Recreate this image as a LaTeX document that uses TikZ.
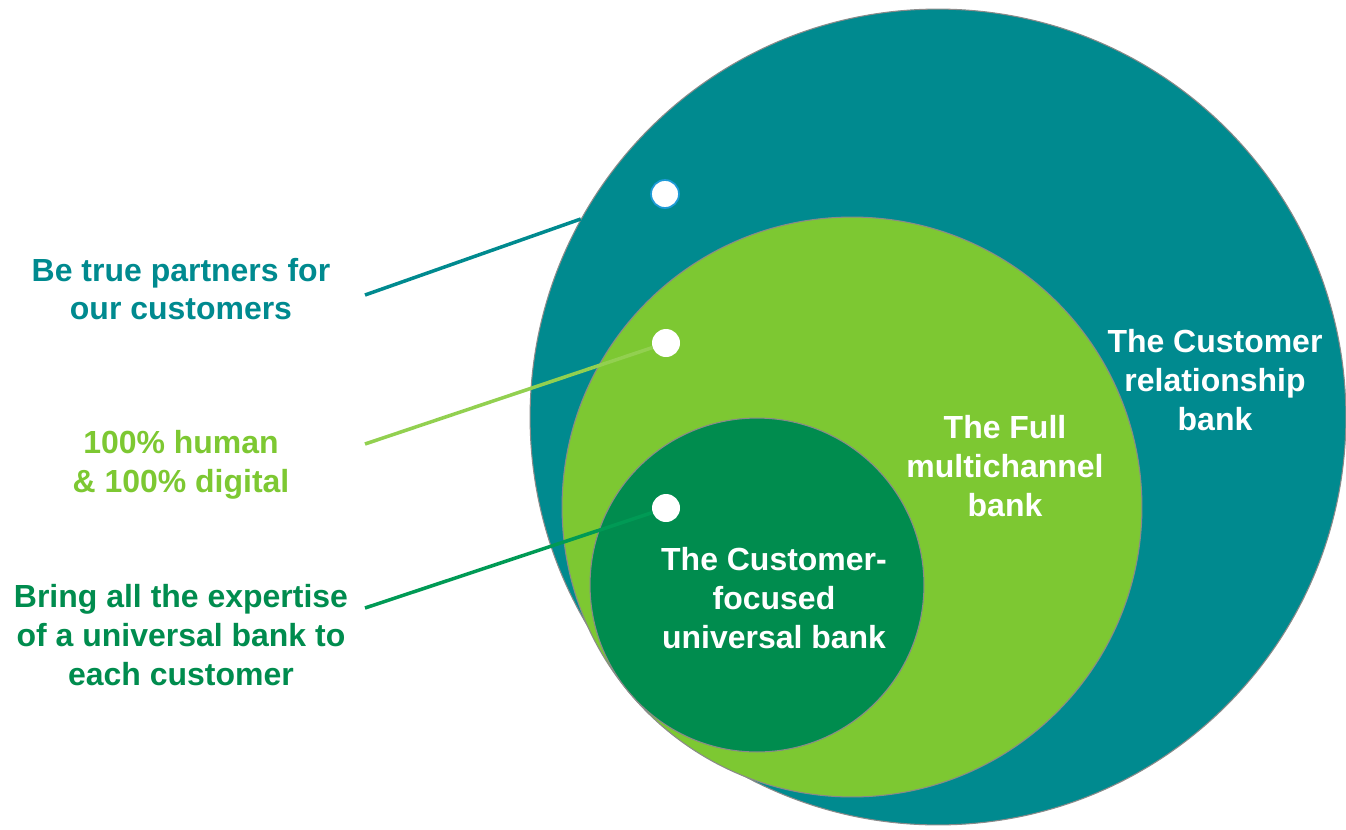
\documentclass[tikz,border=0pt]{standalone}
\usepackage{fontspec}
\setmainfont{Liberation Sans}

\definecolor{bankteal}{HTML}{008A8F}
\definecolor{banklime}{HTML}{7DC832}
\definecolor{bankgreen}{HTML}{008C4E}
\definecolor{leadlime}{HTML}{92D050}
\definecolor{leadgreen}{HTML}{009A55}
\definecolor{ringgray}{HTML}{8A8A8A}
\definecolor{dotblue}{HTML}{1E9AD6}

\tikzset{
  ring/.style={circle, draw=ringgray, line width=0.6pt, inner sep=0pt},
  dot/.style={circle, fill=white, inner sep=0pt, minimum size=0.56cm},
  lbl/.style={align=center, font=\bfseries\fontsize{18.2}{22}\selectfont},
  lead/.style={line width=2pt},
}

\begin{document}
\begin{tikzpicture}[x=0.02cm, y=-0.02cm]
            \useasboundingbox (0,0) rectangle (1346,829);

            % Nested rings, largest first
            \node[ring, fill=bankteal, minimum size=16.32cm] (outer) at (938,417) {};
            \node[ring, fill=banklime, minimum size=11.6cm] (middle) at (852,507) {};
            \node[ring, fill=bankgreen, minimum size=6.68cm] (inner) at (757,585) {};

            % Ring titles
            \node[lbl, text=white] (t1) at (1215,380) {The Customer\\relationship\\bank};
            \node[lbl, text=white] (t2) at (1005,466) {The Full\\multichannel\\bank};
            \node[lbl, text=white] (t3) at (774,598) {The Customer-\\focused\\universal bank};

            % Side captions
            \node[lbl, text=bankteal] (c1) at (181,289) {Be true partners for\\our customers};
            \node[lbl, text=banklime] (c2) at (181,465) {100\% human\\\& 100\% digital};
            \node[lbl, text=bankgreen] (c3) at (181,635) {Bring all the expertise\\of a universal bank to\\each customer};

            % Free ends of the leader lines
            \coordinate (p1) at (365,295);
            \coordinate (p2) at (365,444);
            \coordinate (p3) at (365,608);

            % Markers
            \node[dot, draw=dotblue, line width=1pt] (d1) at (665,194) {};
            \node[dot] (d2) at (666,343) {};
            \node[dot] (d3) at (666,508) {};

            % Leader lines
            \draw[lead, bankteal] (p1) -- (outer.151.5);
            \draw[lead, leadlime] (p2) -- (d2);
            \draw[lead, leadgreen] (p3) -- (d3);
          \end{tikzpicture}
\end{document}
